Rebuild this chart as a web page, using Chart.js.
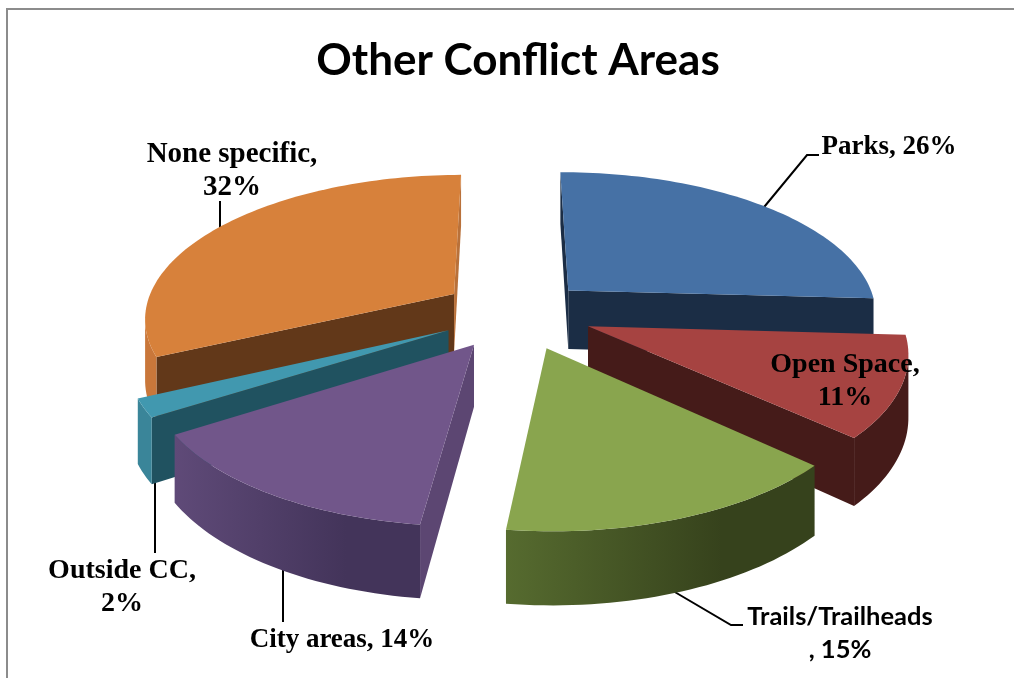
<!DOCTYPE html>
<html>
<head>
<meta charset="utf-8">
<style>
  html, body { margin: 0; padding: 0; background: #fff; overflow: hidden; }
  #frame { position: absolute; left: 6px; top: 8px; width: 1100px; height: 800px; border: 2px solid #8c8c8c; }
  canvas { position: absolute; left: 0; top: 0; }
</style>
</head>
<body>
<div id="frame"></div>
<canvas id="pie" width="1014" height="678"></canvas>
<script src="https://cdn.jsdelivr.net/npm/chart.js@4"></script>
<script>
const categories = ['Parks', 'Open Space', 'Trails/Trailheads', 'City areas', 'Outside CC', 'None specific'];
const shares = [26, 11, 15, 14, 2, 32];
const chartTitle = 'Other Conflict Areas';

// how far each slice is pulled out of the pie
const explode = [71, 75, 80, 80, 78, 77];

const topColors = ['#4671A5', '#A64341', '#89A54E', '#71568A', '#4198AF', '#D7813B'];
const startWallColors = ['#1B2D45', '#451B19', '#36421C', '#5C4672', '#205260', '#623819'];
const endWallColors = ['#1B2D45', '#451B19', '#36421C', '#5C4672', '#205260', '#B9713A'];
const rimColors = [
    ['#1B2D45', '#1B2D45'],
    ['#451B19', '#451B19'],
    ['#566B2F', '#36421C'],
    ['#5F4A78', '#43345A'],
    ['#3A8599', '#3A8599'],
    ['#C9773A', '#C9773A']
];

// fake camera for the 3D look
const tiltY = 0.46;
const perspective = 0.000495;
const depth = 60;
const pieRadius = 310;

const serif = size => `bold ${size}px "Liberation Serif"`;
const labelLayout = [
    { x: 889, y: 154, font: serif(27), lines: i => [`${categories[i]}, ${shares[i]}%`] },
    { x: 845, y: 372, font: serif(28), lines: i => [`${categories[i]},`, `${shares[i]}%`] },
    { x: 840, y: 625, font: 'bold 25.5px Lato', lines: i => [categories[i], `, ${shares[i]}%`] },
    { x: 342, y: 647, font: serif(27), lines: i => [`${categories[i]}, ${shares[i]}%`] },
    { x: 122, y: 578, font: serif(28), lines: i => [`${categories[i]},`, `${shares[i]}%`] },
    { x: 232, y: 162, font: serif(29), lines: i => [`${categories[i]},`, `${shares[i]}%`] }
];
const leaders = [
    [[760, 212], [807, 155], [819, 155]],
    [[668, 588], [731, 625], [743, 625]],
    [[283, 560], [283, 622]],
    [[155, 475], [155, 553]],
    [[220, 235], [220, 201]]
];

const signedArea = pts => {
    let sum = 0;
    pts.forEach((p, i) => {
        const q = pts[(i + 1) % pts.length];
        sum += p.x * q.y - q.x * p.y;
    });
    return sum / 2;
};

const fillPoly = (ctx, pts, fill) => {
    ctx.beginPath();
    pts.forEach((p, i) => (i ? ctx.lineTo(p.x, p.y) : ctx.moveTo(p.x, p.y)));
    ctx.closePath();
    ctx.fillStyle = fill;
    ctx.fill();
};

const pie3d = {
    id: 'pie3d',
    beforeDatasetsDraw(chart) {
        const ctx = chart.ctx;
        const arcs = chart.getDatasetMeta(0).data;
        const project = (X, Y, Z) => {
            const w = 1 / (1 - perspective * Y);
            return { x: arcs[0].x + X * w, y: arcs[0].y + (Y * tiltY + Z) * w };
        };
        const order = arcs.map((a, i) => i).sort((a, b) => {
            const mid = i => (arcs[i].startAngle + arcs[i].endAngle) / 2;
            return Math.sin(mid(a)) - Math.sin(mid(b));
        });

        // leader lines go first so the slices cover their inner ends
        ctx.save();
        ctx.strokeStyle = '#000';
        ctx.lineWidth = 2;
        leaders.forEach(line => {
            ctx.beginPath();
            line.forEach((p, i) => (i ? ctx.lineTo(p[0], p[1]) : ctx.moveTo(p[0], p[1])));
            ctx.stroke();
        });
        ctx.restore();

        order.forEach(i => {
            const arc = arcs[i];
            const mid = (arc.startAngle + arc.endAngle) / 2;
            const ox = Math.cos(mid) * explode[i];
            const oy = Math.sin(mid) * explode[i];
            const steps = Math.max(6, Math.ceil((arc.endAngle - arc.startAngle) * 40));
            const rim = z => {
                const pts = [];
                for (let s = 0; s <= steps; s++) {
                    const a = arc.startAngle + (arc.endAngle - arc.startAngle) * s / steps;
                    pts.push(project(ox + Math.cos(a) * arc.outerRadius, oy + Math.sin(a) * arc.outerRadius, z));
                }
                return pts;
            };
            const rimTop = rim(0);
            const rimBottom = rim(depth);
            const apexTop = project(ox, oy, 0);
            const apexBottom = project(ox, oy, depth);

            const startWall = [apexTop, rimTop[0], rimBottom[0], apexBottom];
            if (signedArea(startWall) < 0) fillPoly(ctx, startWall, startWallColors[i]);
            const endWall = [rimTop[steps], apexTop, apexBottom, rimBottom[steps]];
            if (signedArea(endWall) < 0) fillPoly(ctx, endWall, endWallColors[i]);

            // only the part of the curved side that faces the viewer
            const seen = [];
            for (let s = 0; s < steps; s++) {
                if (signedArea([rimTop[s], rimTop[s + 1], rimBottom[s + 1], rimBottom[s]]) < 0) seen.push(s);
            }
            if (seen.length) {
                const first = seen[0];
                const last = seen[seen.length - 1] + 1;
                const upper = rimTop.slice(first, last + 1);
                const lower = rimBottom.slice(first, last + 1).reverse();
                const xs = upper.map(p => p.x);
                const grad = ctx.createLinearGradient(Math.min(...xs), 0, Math.max(...xs), 0);
                grad.addColorStop(0, rimColors[i][0]);
                grad.addColorStop(0.7, rimColors[i][1]);
                fillPoly(ctx, upper.concat(lower), grad);
            }

            fillPoly(ctx, [apexTop].concat(rimTop), arc.options.backgroundColor);
        });

        return false;
    },
    afterDraw(chart) {
        const ctx = chart.ctx;
        ctx.save();
        ctx.fillStyle = '#000';
        ctx.textAlign = 'center';
        labelLayout.forEach((lab, i) => {
            ctx.font = lab.font;
            lab.lines(i).forEach((txt, n) => ctx.fillText(txt, lab.x, lab.y + n * 33));
        });
        ctx.restore();
    }
};

new Chart(document.getElementById('pie'), {
    type: 'pie',
    data: {
        labels: categories,
        datasets: [{
            data: shares,
            backgroundColor: topColors,
            borderWidth: 0,
            radius: pieRadius
        }]
    },
    options: {
        responsive: false,
        animation: false,
        rotation: -0.3,
        layout: { padding: { left: 22, bottom: 152 } },
        plugins: {
            legend: { display: false },
            title: {
                display: true,
                text: chartTitle,
                color: '#000',
                font: { family: 'Lato', size: 44, weight: 'bold' },
                padding: { top: 34, bottom: 12 }
            }
        }
    },
    plugins: [pie3d]
});
</script>
</body>
</html>
